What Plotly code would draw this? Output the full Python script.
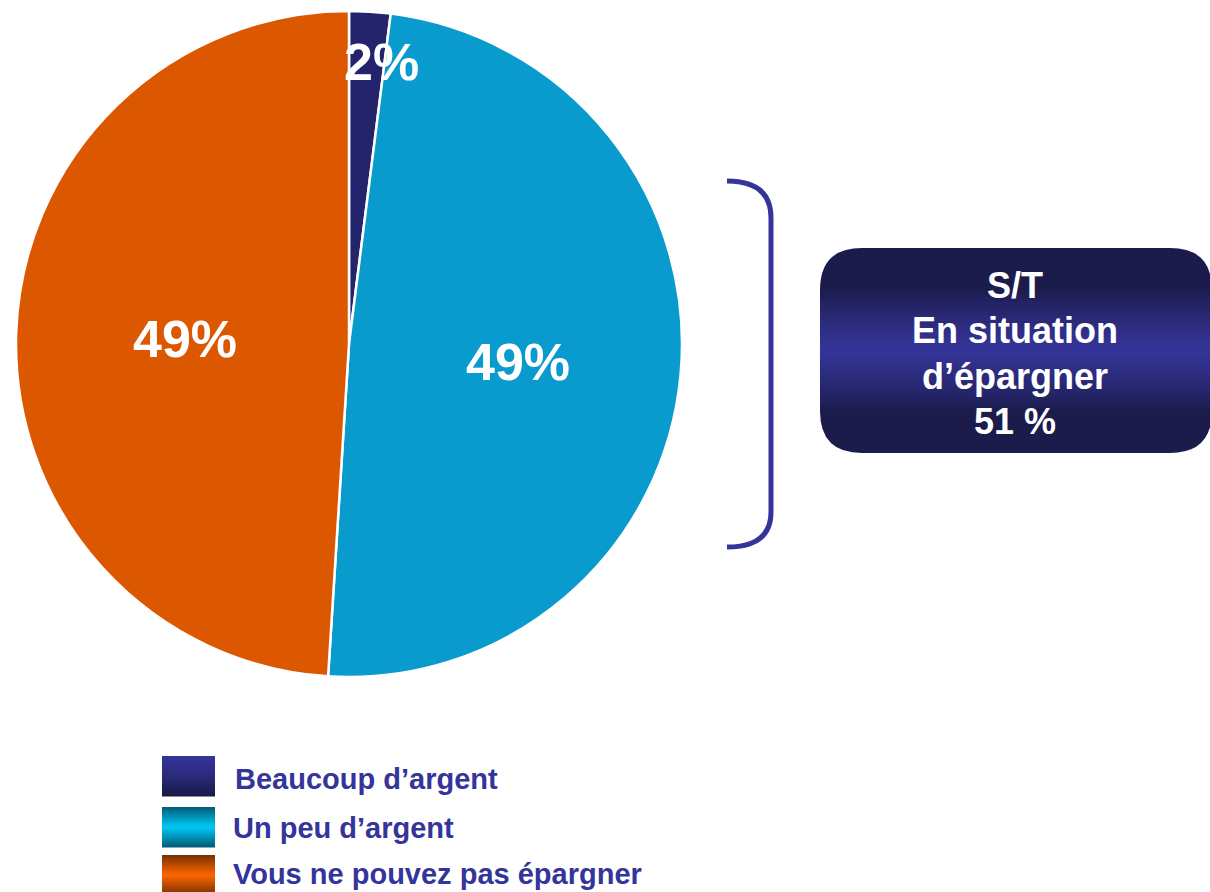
import plotly.graph_objects as go

W, H = 1210, 892

# ---- data ----
categories = ["Beaucoup d’argent", "Un peu d’argent", "Vous ne pouvez pas épargner"]
values = [2, 49, 49]
slice_colors = ["#24246C", "#0A9BCE", "#DC5800"]
subtotal_label = ["S/T", "En situation", "d’épargner"]
subtotal_value = 51

FONT = "Liberation Sans, Arial, Helvetica, sans-serif"
TEXT_BLUE = "#34349A"


def px(x):
    return x / W


def py(y):
    return 1 - y / H


def lerp_hex(c1, c2, t):
    a = [int(c1[i:i + 2], 16) for i in (1, 3, 5)]
    b = [int(c2[i:i + 2], 16) for i in (1, 3, 5)]
    return "#" + "".join(f"{round(a[k] + (b[k] - a[k]) * t):02x}" for k in range(3))


fig = go.Figure()

# pie: centre (349,344), radius 333 px
fig.add_trace(go.Pie(
    labels=categories,
    values=values,
    sort=False,
    direction="clockwise",
    rotation=0,
    marker=dict(colors=slice_colors, line=dict(color="white", width=2.5)),
    textinfo="none",
    hoverinfo="label+percent",
    showlegend=False,
    domain=dict(x=[px(16), px(682)], y=[py(677), py(11)]),
))

shapes = []
annotations = []

# slice labels
label_pos = [(381, 62), (518, 362), (185, 339)]
for v, (lx, ly) in zip(values, label_pos):
    annotations.append(dict(
        x=px(lx), y=py(ly), xref="paper", yref="paper",
        text=f"{v}%", showarrow=False, xanchor="center", yanchor="middle",
        font=dict(family=FONT, size=52, color="white", weight="bold"),
    ))

# legend swatches with vertical gradients
swatch_grad = [
    ("#35359C", "#2A2A7A", "#191946"),
    ("#005C76", "#00C8F8", "#005C76"),
    ("#783000", "#FF6600", "#783000"),
]
swatch_top = [756, 807, 855]
sw_h = 40
n = 20
for (ct, cm, cb), top in zip(swatch_grad, swatch_top):
    for i in range(n):
        t = (i + 0.5) / n
        if t < 0.5:
            col = lerp_hex(ct, cm, t / 0.5)
        else:
            col = lerp_hex(cm, cb, (t - 0.5) / 0.5)
        y0 = top + sw_h * i / n
        y1 = top + sw_h * (i + 1) / n + 0.6
        shapes.append(dict(type="rect", xref="paper", yref="paper",
                           x0=px(162), x1=px(215), y0=py(y1), y1=py(y0),
                           fillcolor=col, line=dict(width=0), layer="above"))

legend_text_pos = [(233, 779), (231, 828), (231, 874)]
for cat, (lx, ly) in zip(categories, legend_text_pos):
    annotations.append(dict(
        x=px(lx), y=py(ly), xref="paper", yref="paper",
        text=cat, showarrow=False, xanchor="left", yanchor="middle",
        font=dict(family=FONT, size=29, color=TEXT_BLUE, weight="bold"),
    ))

# bracket
def P(x, y):
    return f"{px(x):.5f},{py(y):.5f}"

bracket = (f"M {P(727,181)} Q {P(771,181)} {P(771,218)} "
           f"L {P(771,512)} Q {P(771,547)} {P(727,547)}")
shapes.append(dict(type="path", xref="paper", yref="paper", path=bracket,
                   line=dict(color=TEXT_BLUE, width=5)))

# subtotal box (rounded, vertical gradient)
bx0, bx1, by0, by1, r = 820, 1212, 248, 453, 42
box = (f"M {P(bx0+r,by0)} L {P(bx1-r,by0)} Q {P(bx1,by0)} {P(bx1,by0+r)} "
       f"L {P(bx1,by1-r)} Q {P(bx1,by1)} {P(bx1-r,by1)} "
       f"L {P(bx0+r,by1)} Q {P(bx0,by1)} {P(bx0,by1-r)} "
       f"L {P(bx0,by0+r)} Q {P(bx0,by0)} {P(bx0+r,by0)} Z")
dark, light = "#1B1B4C", "#35359A"
shapes.append(dict(type="path", xref="paper", yref="paper", path=box,
                   fillcolor=dark, line=dict(width=0)))
g0, g1, gm = by0 + r, by1 - r, 350
m = 30
for i in range(m):
    y0 = g0 + (g1 - g0) * i / m
    y1 = g0 + (g1 - g0) * (i + 1) / m + 0.6
    yc = (y0 + y1) / 2
    if yc < gm:
        t = (yc - g0) / (gm - g0)
    else:
        t = (g1 - yc) / (g1 - gm)
    t = max(0.0, min(1.0, t))
    col = lerp_hex(dark, light, t ** 0.8)
    shapes.append(dict(type="rect", xref="paper", yref="paper",
                       x0=px(bx0), x1=px(bx1), y0=py(min(y1, g1)), y1=py(y0),
                       fillcolor=col, line=dict(width=0)))

box_lines = subtotal_label + [f"{subtotal_value} %"]
box_y = [285, 330, 376, 421]
for txt, ly in zip(box_lines, box_y):
    annotations.append(dict(
        x=px(1015), y=py(ly), xref="paper", yref="paper",
        text=txt, showarrow=False, xanchor="center", yanchor="middle",
        font=dict(family=FONT, size=36, color="white", weight="bold"),
    ))

fig.update_layout(
    width=W, height=H,
    margin=dict(l=0, r=0, t=0, b=0),
    paper_bgcolor="white",
    plot_bgcolor="white",
    shapes=shapes,
    annotations=annotations,
    showlegend=False,
)

fig.write_html(
    "out.html",
    config={"displayModeBar": False},
    post_script="document.body.style.margin='0';document.body.style.overflow='hidden';",
)
